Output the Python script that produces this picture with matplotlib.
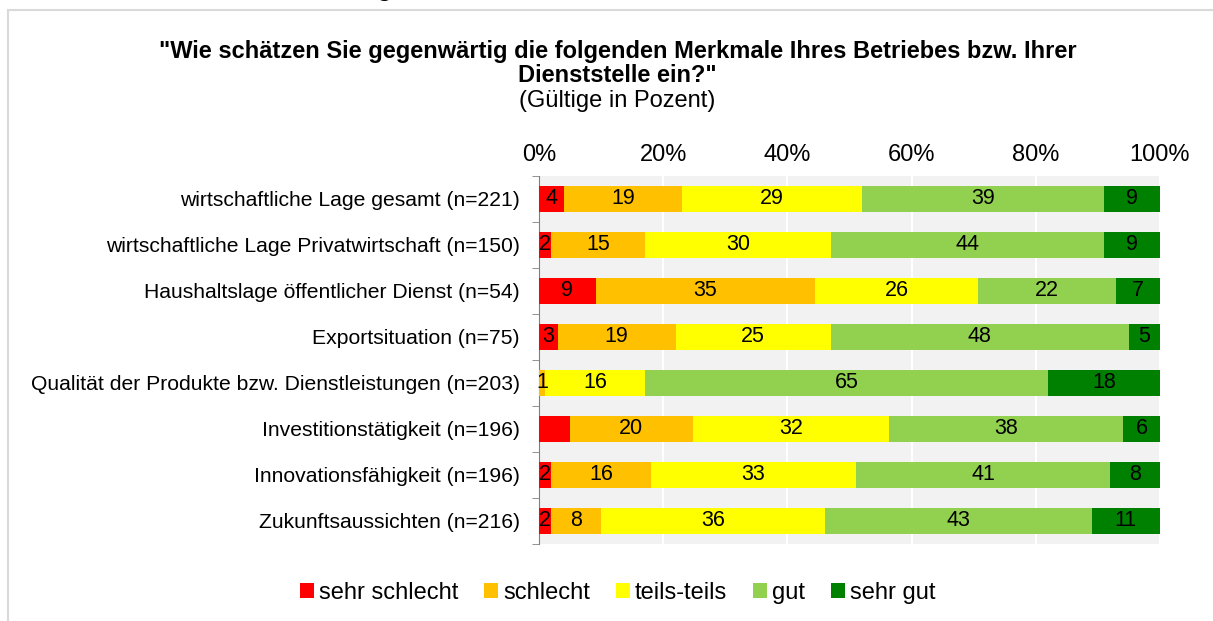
import matplotlib.pyplot as plt
import numpy as np
from matplotlib.patches import Rectangle

plt.rcParams['font.family'] = ['Liberation Sans', 'DejaVu Sans']

# data
categories = [
    "wirtschaftliche Lage gesamt (n=221)",
    "wirtschaftliche Lage Privatwirtschaft (n=150)",
    "Haushaltslage öffentlicher Dienst (n=54)",
    "Exportsituation (n=75)",
    "Qualität der Produkte bzw. Dienstleistungen (n=203)",
    "Investitionstätigkeit (n=196)",
    "Innovationsfähigkeit (n=196)",
    "Zukunftsaussichten (n=216)",
]
series = ["sehr schlecht", "schlecht", "teils-teils", "gut", "sehr gut"]
sehr_schlecht = [4, 2, 9, 3, 0, 5, 2, 2]
schlecht = [19, 15, 35, 19, 1, 20, 16, 8]
teils = [29, 30, 26, 25, 16, 32, 33, 36]
gut = [39, 44, 22, 48, 65, 38, 41, 43]
sehr_gut = [9, 9, 7, 5, 18, 6, 8, 11]
# which labels are shown (the red one in Investitionstätigkeit has none)
show_label = [
    [True, True, True, True, False, False, True, True],
    [True] * 8, [True] * 8, [True] * 8, [True] * 8,
]
colors = ['#FF0000', '#FFC000', '#FFFF00', '#92D050', '#008000']

vals = np.array([sehr_schlecht, schlecht, teils, gut, sehr_gut], dtype=float)
pct = vals / vals.sum(axis=0) * 100

fig = plt.figure(figsize=(12.13, 6.21), dpi=100)
ax = fig.add_axes([0.4444, 0.124, 0.5119, 0.5926])

y = np.arange(len(categories))
left = np.zeros(len(categories))
for i, name in enumerate(series):
    ax.barh(y, pct[i], left=left, height=0.57, color=colors[i], label=name, zorder=3)
    for j in range(len(categories)):
        if show_label[i][j] and vals[i, j] > 0:
            ax.text(left[j] + pct[i, j] / 2, y[j], str(int(vals[i, j])),
                    ha='center', va='center', fontsize=15.5, zorder=4)
    left += pct[i]

ax.set_xlim(0, 100)
ax.set_ylim(len(categories) - 0.5, -0.5)
ax.set_facecolor('#F2F2F2')
ax.set_xticks(np.arange(0, 101, 20))
ax.set_xticklabels([f"{v}%" for v in range(0, 101, 20)], fontsize=17)
ax.xaxis.tick_top()
ax.tick_params(axis='x', length=0, pad=7)
ax.grid(axis='x', color='white', linewidth=1.5, zorder=0)
ax.set_yticks(y)
ax.set_yticklabels(categories, fontsize=15.2)
ax.set_yticks(np.arange(-0.5, len(categories), 1), minor=True)
ax.tick_params(axis='y', which='major', length=0, pad=14)
ax.tick_params(axis='y', which='minor', length=5, color='#808080')
for s in ['top', 'right', 'bottom']:
    ax.spines[s].set_visible(False)
ax.spines['left'].set_color('#808080')

# outer chart border
fig.patches.append(Rectangle((8 / 1213, -0.01), 1.0, 1 - 10 / 621 + 0.01,
                             transform=fig.transFigure, fill=False,
                             edgecolor='#D9D9D9', linewidth=1.5))

fig.text(0.511, 0.998, "Abbildung 3: Merkmale des Betriebes oder der Dienststelle",
         ha='center', va='bottom', fontsize=18, fontweight='bold')
fig.text(0.509, 0.898, '"Wie schätzen Sie gegenwärtig die folgenden Merkmale Ihres Betriebes bzw. Ihrer\nDienststelle ein?"',
         ha='center', va='center', fontsize=17, fontweight='bold', linespacing=1.05)
fig.text(0.509, 0.837, "(Gültige in Pozent)", ha='center', va='center', fontsize=17)

fig.legend(loc='center', bbox_to_anchor=(0.509, 0.045), ncol=5, frameon=False,
           fontsize=17, handlelength=0.6, handleheight=0.6, handletextpad=0.2,
           columnspacing=1.1)

plt.savefig("out.png", dpi=100)
